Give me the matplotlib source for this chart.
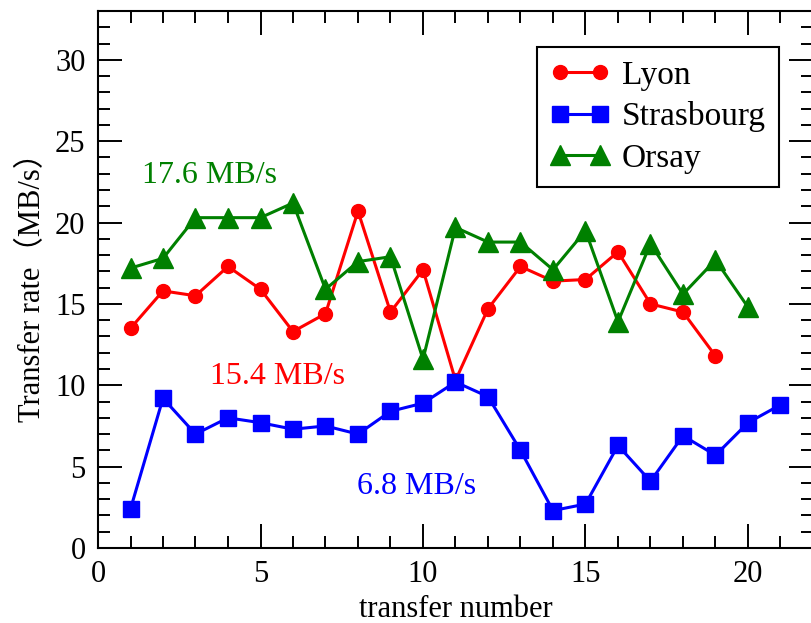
import matplotlib
matplotlib.use('Agg')
import matplotlib.pyplot as plt
from matplotlib.ticker import MultipleLocator

# transfer rates (MB/s)
lyon_x = list(range(1, 20))
lyon_y = [13.5, 15.8, 15.5, 17.3, 15.9, 13.3, 14.4, 20.7, 14.5, 17.1,
          10.3, 14.7, 17.3, 16.4, 16.5, 18.2, 15.0, 14.5, 11.8]

stras_x = list(range(1, 22))
stras_y = [2.4, 9.2, 7.0, 8.0, 7.7, 7.3, 7.5, 7.0, 8.4, 8.9,
           10.2, 9.3, 6.0, 2.3, 2.7, 6.3, 4.1, 6.9, 5.7, 7.7, 8.8]

orsay_x = list(range(1, 21))
orsay_y = [17.2, 17.8, 20.3, 20.3, 20.3, 21.2, 15.9, 17.6, 17.9, 11.6,
           19.7, 18.8, 18.8, 17.1, 19.5, 13.9, 18.7, 15.6, 17.7, 14.8]

labels = ['Lyon', 'Strasbourg', 'Orsay']
averages = ['15.4 MB/s', '6.8 MB/s', '17.6 MB/s']

plt.rcParams['font.family'] = ['Liberation Serif', 'Noto Sans CJK JP']

fig = plt.figure(figsize=(8.11, 6.23), dpi=100)
ax = fig.add_axes([98 / 811, 75 / 623, 715 / 811, 537 / 623])

ax.plot(lyon_x, lyon_y, color='red', lw=2.2, marker='o', ms=10, label=labels[0])
ax.plot(stras_x, stras_y, color='blue', lw=2.2, marker='s', ms=11, label=labels[1])
ax.plot(orsay_x, orsay_y, color='green', lw=2.2, marker='^', ms=14, label=labels[2])

# average rate notes
ax.text(1.35, 22.9, averages[2], color='green', fontsize=23, va='center')
ax.text(3.45, 10.55, averages[0], color='red', fontsize=23, va='center')
ax.text(7.97, 3.8, averages[1], color='blue', fontsize=23, va='center')

ax.set_xlim(0, 22)
ax.set_ylim(0, 33)
ax.xaxis.set_major_locator(MultipleLocator(5))
ax.xaxis.set_minor_locator(MultipleLocator(1))
ax.yaxis.set_major_locator(MultipleLocator(5))
ax.yaxis.set_minor_locator(MultipleLocator(1))
ax.tick_params(which='both', direction='in', top=True, right=True, width=1.4, labelsize=22)
ax.tick_params(which='major', length=17, pad=9)
ax.tick_params(which='minor', length=8.6)
for sp in ax.spines.values():
    sp.set_linewidth(1.5)

ax.set_xlabel('transfer number', fontsize=22, labelpad=4)
ax.set_ylabel('Transfer rate（MB/s）', fontsize=22, labelpad=6)

ax.legend(loc='upper right', bbox_to_anchor=(779 / 811, 1 - 47 / 623),
          bbox_transform=fig.transFigure, borderaxespad=0, fontsize=24,
          numpoints=2, handlelength=1.8, handletextpad=0.35, labelspacing=0.32,
          borderpad=0.4, fancybox=False, edgecolor='black', framealpha=1)
leg = ax.get_legend()
leg.get_frame().set_linewidth(1.5)

fig.savefig('out.png', dpi=100)
